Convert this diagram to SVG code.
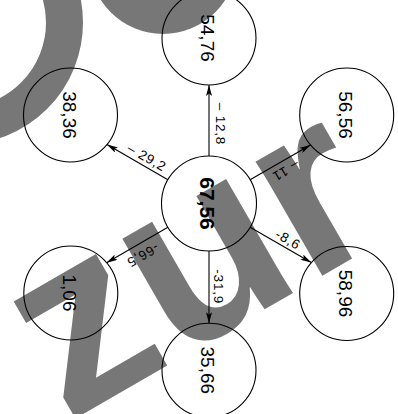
<svg xmlns="http://www.w3.org/2000/svg" width="398" height="414" viewBox="0 0 398 414">
<style>
.node{fill:none;stroke:#000;stroke-width:1.1}
.nl{font-family:"Liberation Sans",Arial,sans-serif;font-size:19px;fill:#000}
.nlb{font-family:"Liberation Sans",Arial,sans-serif;font-size:21px;font-weight:bold;fill:#000}
.el{font-family:"Liberation Sans",Arial,sans-serif;font-size:13.5px;letter-spacing:0.8px;fill:#000}
.edge{stroke:#000;stroke-width:1.1;fill:none;marker-end:url(#ah)}
.wm{fill:#777}
</style>
<defs>
<marker id="ah" viewBox="0 0 11 6" refX="11" refY="3" markerWidth="11" markerHeight="6" markerUnits="userSpaceOnUse" orient="auto">
<path d="M0,0 L11,3 L0,6 L2.5,3 z" fill="#000"/>
</marker>
</defs>
<rect width="398" height="414" fill="#fff"/>
<g id="watermark">
<circle cx="-39" cy="22.5" r="103.5" fill="none" stroke="#777" stroke-width="37"/>
<circle class="wm" cx="163" cy="-40" r="74"/>
<text class="wm" transform="rotate(-30)" x="-154" y="400" font-family="'Liberation Sans',Arial,sans-serif" font-size="250" font-weight="bold">zur</text>
</g>
<g id="connectors">
<line class="edge" x1="209" y1="156" x2="209" y2="85"/>
<line class="edge" x1="167.9" y1="179.75" x2="107" y2="144.6"/>
<line class="edge" x1="250.1" y1="179.75" x2="310.5" y2="144.9"/>
<line class="edge" x1="167.9" y1="227.25" x2="106.6" y2="262.7"/>
<line class="edge" x1="250.1" y1="227.25" x2="311.3" y2="262.6"/>
<line class="edge" x1="209" y1="251" x2="209" y2="323.3"/>
<text class="el" transform="translate(215.5,124) rotate(90)" text-anchor="middle">&#8211; 12,8</text>
<text class="el" transform="translate(144.5,161.3) rotate(30)" text-anchor="middle">&#8211; 29,2</text>
<text class="el" transform="translate(283.5,166.7) rotate(150)" text-anchor="middle">&#8211; 11</text>
<text class="el" transform="translate(140.5,251.2) rotate(150)" text-anchor="middle">-66,5</text>
<text class="el" transform="translate(285.8,243.5) rotate(30)" text-anchor="middle">-8,6</text>
<text class="el" transform="translate(213.5,286.7) rotate(90)" text-anchor="middle">-31,9</text>
</g>
<g id="n-center">
<circle class="node" cx="209" cy="203.5" r="47.5"/>
<text class="nlb" transform="translate(209,203.5) rotate(90)" y="9" text-anchor="middle">67,56</text>
</g>
<g id="n-top">
<circle class="node" cx="209" cy="38" r="47"/>
<text class="nl" transform="translate(209,38) rotate(90)" y="8" text-anchor="middle">54,76</text>
</g>
<g id="n-top-left">
<circle class="node" cx="70.5" cy="115" r="47"/>
<text class="nl" transform="translate(70.5,115) rotate(90)" y="8" text-anchor="middle">38,36</text>
</g>
<g id="n-top-right">
<circle class="node" cx="346.7" cy="115" r="47"/>
<text class="nl" transform="translate(346.7,115) rotate(90)" y="8" text-anchor="middle">56,56</text>
</g>
<g id="n-bottom-left">
<circle class="node" cx="70.8" cy="293" r="47"/>
<text class="nl" transform="translate(70.8,293) rotate(90)" y="8" text-anchor="middle">1,06</text>
</g>
<g id="n-bottom-right">
<circle class="node" cx="346.7" cy="293.5" r="47"/>
<text class="nl" transform="translate(346.7,293.5) rotate(90)" y="8" text-anchor="middle">58,96</text>
</g>
<g id="n-bottom">
<circle class="node" cx="209" cy="370.3" r="47"/>
<text class="nl" transform="translate(209,370.3) rotate(90)" y="8" text-anchor="middle">35,66</text>
</g>
</svg>
